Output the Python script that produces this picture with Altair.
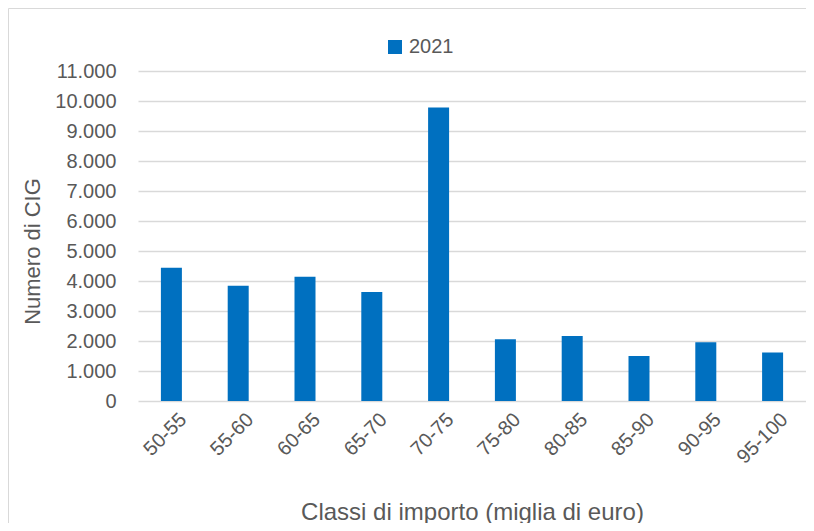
import altair as alt
import pandas as pd

categories = ["50-55", "55-60", "60-65", "65-70", "70-75", "75-80", "80-85", "85-90", "90-95", "95-100"]
values_2021 = [4440, 3840, 4140, 3630, 9780, 2060, 2170, 1500, 1960, 1620]
series_name = "2021"
y_ticks = list(range(0, 11001, 1000))

df = pd.DataFrame({"classe": categories, "cig": values_2021, "serie": [series_name] * len(categories)})

GRAY = "#595959"
FONT = "Liberation Sans"

bars = alt.Chart(df).mark_bar(size=21, color="#0070C0").encode(
    x=alt.X("classe:N", sort=categories, title="Classi di importo (miglia di euro)",
            scale=alt.Scale(paddingInner=0.0, paddingOuter=0.0),
            axis=alt.Axis(labelAngle=-45, labelFontSize=20, labelColor=GRAY, labelFont=FONT,
                          labelOffset=5, labelPadding=8,
                          titleFontSize=24, titleColor=GRAY, titleFont=FONT, titleFontWeight="normal",
                          titleY=111, titleBaseline="middle",
                          ticks=False, domain=False, grid=False)),
    y=alt.Y("cig:Q", title="Numero di CIG",
            scale=alt.Scale(domain=[0, 11000], nice=False),
            axis=alt.Axis(values=y_ticks, labelExpr="replace(format(datum.value, ','), ',', '.')",
                          labelFontSize=20, labelColor=GRAY, labelFont=FONT,
                          titleFontSize=22, titleColor=GRAY, titleFont=FONT, titleFontWeight="normal",
                          titleX=-106, titleY=180, titleBaseline="middle",
                          ticks=False, domain=False, gridColor="#D9D9D9", gridWidth=1.5,
                          labelPadding=22)),
    color=alt.Color("serie:N", scale=alt.Scale(range=["#0070C0"]),
                    legend=alt.Legend(title=None, orient="none", legendX=247, legendY=-34,
                                      symbolType="square", symbolSize=196, symbolStrokeWidth=0,
                                      symbolOffset=0, labelOffset=4,
                                      labelFontSize=20, labelColor=GRAY, labelFont=FONT)),
)

frame_left = alt.Chart(pd.DataFrame({"a": [0]})).mark_rule(color="#D9D9D9", strokeWidth=1).encode(
    x=alt.value(-129.5), y=alt.value(-62.5), y2=alt.value(452)
)
frame_top = alt.Chart(pd.DataFrame({"a": [0]})).mark_rule(color="#D9D9D9", strokeWidth=1).encode(
    x=alt.value(-129.5), x2=alt.value(668), y=alt.value(-62.5)
)

chart = alt.layer(frame_left, frame_top, bars).properties(
    width=668, height=330,
    autosize=alt.AutoSizeParams(type="none"),
    padding={"left": 130, "top": 63, "right": 0, "bottom": 122},
    background="white",
).configure_view(stroke=None)

chart.save("out.html", embed_options={"renderer": "svg", "actions": False})
